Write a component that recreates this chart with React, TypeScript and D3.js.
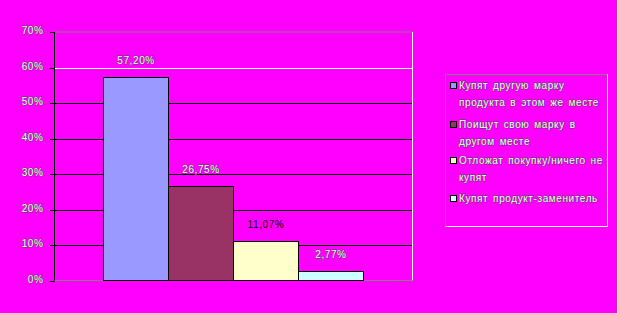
import React from "react";
import * as d3 from "d3";

const seriesNames = [
  ["Купят другую марку", "продукта в этом же месте"],
  ["Поищут свою марку в", "другом месте"],
  ["Отложат покупку/ничего не", "купят"],
  ["Купят продукт-заменитель"],
];
const seriesValues = [57.2, 26.75, 11.07, 2.77];
const valueLabels = ["57,20%", "26,75%", "11,07%", "2,77%"];
const seriesColors = ["#9999FF", "#993366", "#FFFFCC", "#CCFFFF"];
const labelColors = ["#fff", "#fff", "#000", "#fff"];
const yTicks = [0, 10, 20, 30, 40, 50, 60, 70];
const yTickLabels = ["0%", "10%", "20%", "30%", "40%", "50%", "60%", "70%"];

const W = 617;
const H = 313;
const plot = { left: 54.5, right: 412.5, top: 32, bottom: 280.5 };

export default function App() {
  const y = d3.scaleLinear().domain([0, 70]).range([plot.bottom, plot.top]);
  const outer = d3
    .scaleBand<string>()
    .domain(["g"])
    .range([plot.left, plot.right])
    .paddingInner(0)
    .paddingOuter(0.189);
  const inner = d3
    .scaleBand<number>()
    .domain(seriesValues.map((_, i) => i))
    .range([outer("g")!, outer("g")! + outer.bandwidth()])
    .padding(0);

  const font = "Arial, 'Liberation Sans', sans-serif";
  const txtStyle = {
    fontFamily: font,
    fontSize: 10,
    letterSpacing: 0.6,
    wordSpacing: 1.5,
    paintOrder: "stroke",
  } as React.CSSProperties;

  const legend = { x: 445.5, y: 74.5, w: 162, h: 152 };
  const legendLines: { text: string; y: number; swatch?: number }[] = [];
  const itemY = [85.5, 124.5, 160.5, 198.5];
  seriesNames.forEach((lines, i) => {
    lines.forEach((t, j) => {
      legendLines.push({ text: t, y: itemY[i] + j * 17, swatch: j === 0 ? i : undefined });
    });
  });

  const whiteText = { fill: "#fff", stroke: "#444", strokeWidth: 0.8 };

  return (
    <svg
      width={W}
      height={H}
      style={{ position: "absolute", left: 0, top: 0, display: "block" }}
    >
      <rect x={0} y={0} width={W} height={H} fill="#FF00FF" />
      {yTicks.slice(1, -1).map((t) => (
        <line
          key={t}
          x1={plot.left}
          x2={plot.right}
          y1={Math.round(y(t)) + 0.5}
          y2={Math.round(y(t)) + 0.5}
          stroke={t === 60 ? "#fff" : "#000"}
          strokeWidth={1}
        />
      ))}
      <line x1={plot.left} x2={plot.right} y1={plot.top} y2={plot.top} stroke="#808080" />
      <line x1={plot.right} x2={plot.right} y1={plot.top} y2={plot.bottom} stroke="#fff" />
      <line x1={plot.left} x2={plot.right} y1={plot.bottom} y2={plot.bottom} stroke="#808080" />
      {seriesValues.map((v, i) => (
        <rect
          key={i}
          x={Math.floor(inner(i)!) + 0.5}
          y={Math.round(y(v)) + 0.5}
          width={Math.round(inner.bandwidth())}
          height={plot.bottom - Math.round(y(v)) - 0.5}
          fill={seriesColors[i]}
          stroke="#000"
          strokeWidth={1}
        />
      ))}
      {seriesValues.map((v, i) => (
        <text
          key={i}
          x={inner(i)! + inner.bandwidth() / 2}
          y={y(v) - 13}
          textAnchor="middle"
          {...(labelColors[i] === "#fff" ? whiteText : { fill: "#000" })}
          style={txtStyle}
        >
          {valueLabels[i]}
        </text>
      ))}
      <line x1={plot.left} x2={plot.left} y1={plot.top} y2={plot.bottom} stroke="#000" />
      {yTicks.map((t, i) => (
        <g key={t}>
          <line
            x1={plot.left - 4.5}
            x2={plot.left}
            y1={Math.round(y(t)) + 0.5}
            y2={Math.round(y(t)) + 0.5}
            stroke="#000"
          />
          <text x={43.5} y={y(t) + 2} textAnchor="end" {...whiteText} style={txtStyle}>
            {yTickLabels[i]}
          </text>
        </g>
      ))}
      <line x1={legend.x} x2={legend.x + legend.w} y1={legend.y} y2={legend.y} stroke="#808080" />
      <line x1={legend.x} x2={legend.x} y1={legend.y} y2={legend.y + legend.h} stroke="#808080" />
      <line
        x1={legend.x}
        x2={legend.x + legend.w}
        y1={legend.y + legend.h}
        y2={legend.y + legend.h}
        stroke="#fff"
      />
      <line
        x1={legend.x + legend.w}
        x2={legend.x + legend.w}
        y1={legend.y}
        y2={legend.y + legend.h}
        stroke="#fff"
      />
      {legendLines.map((l, k) => (
        <g key={k}>
          {l.swatch !== undefined && (
            <rect
              x={450.5}
              y={l.y - 3}
              width={6}
              height={6}
              fill={seriesColors[l.swatch]}
              stroke="#000"
            />
          )}
          <text x={459} y={l.y + 3.5} {...whiteText} style={txtStyle}>
            {l.text}
          </text>
        </g>
      ))}
    </svg>
  );
}
